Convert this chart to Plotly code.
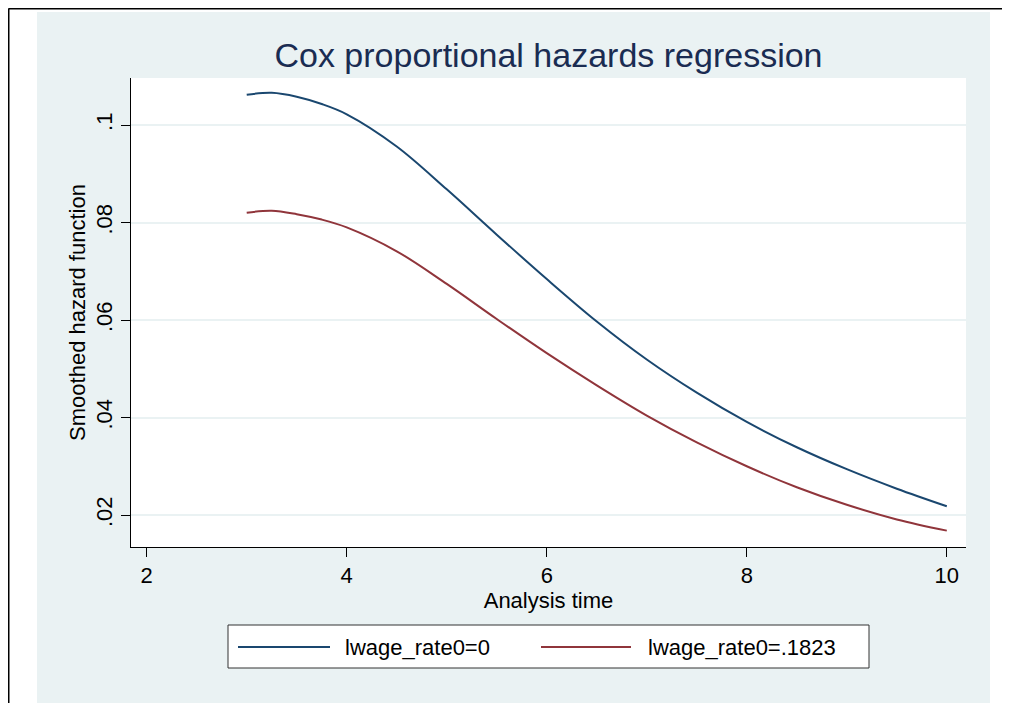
import plotly.graph_objects as go

# smoothed hazard curves
analysis_time = [3, 3.25, 3.5, 3.75, 4, 4.5, 5, 5.5, 6, 6.5, 7, 7.5, 8, 8.5, 9, 9.5, 10]
hazard_rate0 = [0.1062, 0.1066, 0.1058, 0.1043, 0.1022, 0.0956, 0.0868, 0.0775, 0.0684,
                0.0597, 0.0519, 0.0451, 0.0391, 0.0339, 0.0294, 0.0254, 0.0218]
hazard_rate1823 = [0.0820, 0.0824, 0.0817, 0.0806, 0.0790, 0.0741, 0.0674, 0.0602, 0.0532,
                   0.0466, 0.0404, 0.0349, 0.0300, 0.0257, 0.0221, 0.0191, 0.0168]
series_names = ["lwage_rate0=0", "lwage_rate0=.1823"]
series_colors = ["#1a476f", "#90353b"]

x_ticks = [2, 4, 6, 8, 10]
y_ticks = [0.02, 0.04, 0.06, 0.08, 0.1]
y_ticklabels = [".02", ".04", ".06", ".08", ".1"]

W, H = 1010, 703
OFF = 8  # page body margin
L, T = 131 - OFF, 78 - OFF
PW, PH = 835, 469
R, B = W - L - PW, H - T - PH
BG = "#eaf2f3"
FONT = "Liberation Sans, Arial, sans-serif"


def px_x(px):
    # screen pixel -> paper x
    return (px - OFF - L) / PW


def px_y(py):
    return (T + PH - (py - OFF)) / PH


fig = go.Figure()
for ys, name, col in zip([hazard_rate0, hazard_rate1823], series_names, series_colors):
    fig.add_trace(go.Scatter(x=analysis_time, y=ys, name=name, mode="lines",
                             line=dict(color=col, width=2, shape="spline"),
                             showlegend=False))

shapes = [
    # graph region (light bluish gray) and white plot region
    dict(type="rect", xref="paper", yref="paper", x0=px_x(37), x1=px_x(990),
         y0=px_y(730), y1=px_y(12), fillcolor=BG, line_width=0, layer="below"),
    dict(type="rect", xref="paper", yref="paper", x0=0, x1=1, y0=0, y1=1,
         fillcolor="white", line_width=0, layer="below"),
    # outer frame lines
    dict(type="line", xref="paper", yref="paper", x0=px_x(8.5), x1=px_x(1030),
         y0=px_y(8.5), y1=px_y(8.5), line=dict(color="black", width=2)),
    dict(type="line", xref="paper", yref="paper", x0=px_x(8.5), x1=px_x(8.5),
         y0=px_y(8.5), y1=px_y(730), line=dict(color="black", width=2)),
    # legend box
    dict(type="rect", xref="paper", yref="paper", x0=px_x(228), x1=px_x(869),
         y0=px_y(668), y1=px_y(625), fillcolor="white",
         line=dict(color="#333333", width=1)),
]

# legend entries: line sample + label
legend_pos = [(238, 330, 343), (541, 631, 646)]
annotations = []
for (lx0, lx1, tx), name, col in zip(legend_pos, series_names, series_colors):
    shapes.append(dict(type="line", xref="paper", yref="paper", x0=px_x(lx0), x1=px_x(lx1),
                       y0=px_y(647), y1=px_y(647), line=dict(color=col, width=2)))
    annotations.append(dict(text=name, xref="paper", yref="paper", x=px_x(tx), y=px_y(647),
                            xanchor="left", yanchor="middle", showarrow=False,
                            font=dict(size=22, color="black", family=FONT)))

fig.update_layout(
    width=W, height=H,
    margin=dict(l=L, r=R, t=T, b=B),
    paper_bgcolor="white", plot_bgcolor="white",
    font=dict(family=FONT, size=22, color="black"),
    title=dict(text="Cox proportional hazards regression", x=0.5, xref="paper",
               xanchor="center", y=1 - (55 - OFF) / H, yanchor="middle",
               font=dict(size=34, color="#1a2c52")),
    shapes=shapes,
    annotations=annotations,
    xaxis=dict(range=[1.843, 10.192], tickvals=x_ticks, showgrid=False, zeroline=False,
               showline=True, linecolor="black", linewidth=1,
               ticks="outside", ticklen=9, tickcolor="black", tickwidth=1,
               tickfont=dict(size=22),
               title=dict(text="Analysis time", font=dict(size=22), standoff=4)),
    yaxis=dict(range=[0.01344, 0.10964], tickvals=y_ticks, ticktext=y_ticklabels,
               tickangle=-90, showgrid=True, gridcolor=BG, gridwidth=1.5, zeroline=False,
               showline=True, linecolor="black", linewidth=1,
               ticks="outside", ticklen=9, tickcolor="black", tickwidth=1,
               tickfont=dict(size=22),
               title=dict(text="Smoothed hazard function", font=dict(size=22), standoff=0)),
)

fig.write_html("out.html")
